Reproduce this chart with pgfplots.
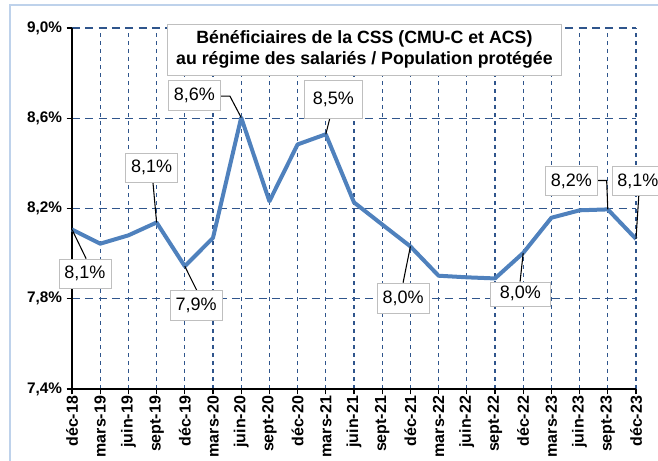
\documentclass[border=0pt]{standalone}
\usepackage{pgfplots}
\pgfplotsset{compat=1.18}
\usepackage{fontspec}
\setmainfont{Liberation Sans}
\definecolor{linecol}{RGB}{79,129,189}
\definecolor{gridcol}{RGB}{47,85,140}
\definecolor{framecol}{RGB}{190,210,235}
\pgfplotstableread{
x y
0 8.107
1 8.044
2 8.081
3 8.138
4 7.944
5 8.070
6 8.603
7 8.232
8 8.484
9 8.529
10 8.227
11 8.129
12 8.032
13 7.902
14 7.895
15 7.890
16 8.003
17 8.159
18 8.192
19 8.196
20 8.065
}\datatable
\begin{document}
\begin{tikzpicture}
\path[use as bounding box] (-54pt,-54pt) rectangle (439.5pt,291.75pt);
\draw[framecol, line width=1.2pt] (-46.5pt,-60pt) -- (-46.5pt,288pt) -- (445pt,288pt);
\begin{axis}[
  scale only axis,
  width=423pt, height=270.75pt,
  xmin=0, xmax=20, ymin=7.4, ymax=9.0,
  clip=false,
  axis x line*=bottom, axis y line*=left,
  axis line style={black, line width=1.1pt, -},
  xtick={0,...,20},
  xticklabels={déc-18,mars-19,juin-19,sept-19,déc-19,mars-20,juin-20,sept-20,déc-20,mars-21,juin-21,sept-21,déc-21,mars-22,juin-22,sept-22,déc-22,mars-23,juin-23,sept-23,déc-23},
  ytick={7.4,7.8,8.2,8.6,9.0},
  yticklabels={{7,4\%},{7,8\%},{8,2\%},{8,6\%},{9,0\%}},
  tick align=outside,
  major tick length=4pt,
  tick style={black, line width=0.9pt},
  x tick label style={rotate=90, anchor=east, font=\bfseries\fontsize{12}{14}\selectfont, inner sep=1pt},
  y tick label style={font=\bfseries\fontsize{11.5}{13}\selectfont},
  xmajorgrids, ymajorgrids,
  x grid style={gridcol, line width=0.8pt, dash pattern=on 3pt off 3pt},
  y grid style={gridcol, line width=1.1pt, dash pattern=on 6pt off 4pt},
]
\addplot[linecol, line width=3pt, line join=round] table[x=x,y=y] {\datatable};

\begin{scope}[black, line width=0.8pt]
\draw (axis cs:0,8.107) -- (axis cs:0.5,7.978);
\draw (axis cs:3,8.138) -- (axis cs:2.87,8.316);
\draw (axis cs:4,7.944) -- (axis cs:4.43,7.836);
\draw (axis cs:6,8.603) -- (axis cs:5.60,8.698) -- (axis cs:5.28,8.698);
\draw (axis cs:9,8.529) -- (axis cs:9.15,8.604);
\draw (axis cs:12,8.032) -- (axis cs:11.74,7.871);
\draw (axis cs:16,8.003) -- (axis cs:15.89,7.876);
\draw (axis cs:19,8.196) -- (axis cs:18.96,8.324) -- (axis cs:18.65,8.324);
\draw (axis cs:20,8.065) -- (axis cs:20.1,8.258);
\end{scope}

\tikzset{lab/.style={draw=black!25, fill=white, font=\fontsize{13.5}{15}\selectfont, minimum width=39pt, minimum height=22pt, inner sep=2pt}}
\node[lab] at (axis cs:0.46,7.911) {8,1\%};
\node[lab] at (axis cs:2.82,8.382) {8,1\%};
\node[lab] at (axis cs:4.40,7.771) {7,9\%};
\node[lab] at (axis cs:4.34,8.702) {8,6\%};
\node[lab, minimum width=43pt, minimum height=28pt] at (axis cs:9.27,8.684) {8,5\%};
\node[lab] at (axis cs:11.74,7.802) {8,0\%};
\node[lab, minimum width=45pt, minimum height=18pt] at (axis cs:15.9,7.822) {8,0\%};
\node[lab] at (axis cs:17.71,8.322) {8,2\%};
\node[lab] at (axis cs:20.07,8.322) {8,1\%};

\node[draw=black!25, fill=white, align=center, font=\bfseries\fontsize{13.3}{16}\selectfont, minimum width=296pt, minimum height=38pt, inner sep=2pt] at (axis cs:10.37,8.904) {Bénéficiaires de la CSS (CMU-C  et ACS)\\au régime des salariés / Population protégée};
\end{axis}
\end{tikzpicture}
\end{document}
